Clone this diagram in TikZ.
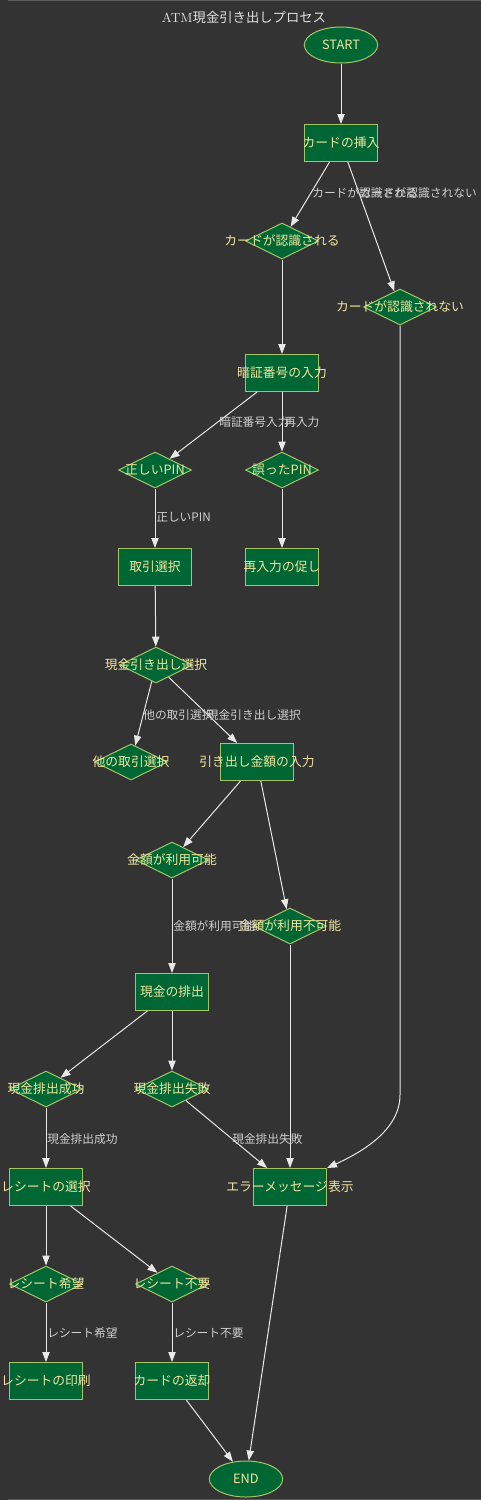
\documentclass[tikz,border=0pt]{standalone}
\usepackage{fontspec}
\newfontfamily\jp{Noto Sans CJK JP}
\usetikzlibrary{shapes.geometric,arrows.meta}
\definecolor{bg}{HTML}{333333}
\definecolor{nfill}{HTML}{006633}
\definecolor{nline}{HTML}{A4C46A}
\definecolor{ntext}{HTML}{F0E6A0}
\definecolor{etext}{HTML}{CFCFCF}
\definecolor{eline}{HTML}{E8E8E8}
\definecolor{framec}{HTML}{5C5C5C}
\begin{document}
\begin{tikzpicture}[x=0.75pt,y=-0.75pt,
 base/.style={draw=nline, fill=nfill, line width=0.75pt, inner sep=0pt},
 procbox/.style={base, rectangle, minimum width=54.75pt, minimum height=27.75pt},
 decbox/.style={base, diamond, minimum width=54.75pt, minimum height=27pt},
 termbox/.style={base, ellipse, minimum width=55pt, minimum height=27pt},
 ntxt/.style={text=ntext, font=\jp\fontsize{9.6pt}{11pt}\selectfont, inner sep=0pt},
 elab/.style={text=etext, font=\jp\fontsize{8.8pt}{10pt}\selectfont, inner sep=0pt},
 flow/.style={draw=eline, line width=0.75pt, -{Triangle[length=7.5pt,width=5.5pt]}},
]
\fill[bg] (0,0) rectangle (481,1500);
\useasboundingbox (0,0) rectangle (481,1500);
\draw[framec, line width=1pt] (8,0.6) -- (481,0.6);
\draw[framec, line width=1pt] (8,1499.4) -- (481,1499.4);

% title
\node[text=white!88!black, font=\fontsize{10pt}{12pt}\selectfont, inner sep=0pt] (title) at (244,17) {ATM{\jp 現金引き出しプロセス}};

% nodes
\node[termbox, label={[ntxt]center:START}] (start) at (341,45) {};
\node[procbox, label={[ntxt]center:カードの挿入}] (insert) at (341,143) {};
\node[decbox, label={[ntxt]center:カードが認識される}] (recog) at (282,241) {};
\node[decbox, label={[ntxt]center:カードが認識されない}] (norecog) at (400,307) {};
\node[procbox, label={[ntxt]center:暗証番号の入力}] (pin) at (282,373) {};
\node[decbox, label={[ntxt]center:正しいPIN}] (okpin) at (155,470) {};
\node[decbox, label={[ntxt]center:誤ったPIN}] (badpin) at (282,470) {};
\node[procbox, label={[ntxt]center:取引選択}] (trans) at (155,567) {};
\node[procbox, label={[ntxt]center:再入力の促し}] (retry) at (282,567) {};
\node[decbox, label={[ntxt]center:現金引き出し選択}] (cashsel) at (156,665) {};
\node[decbox, label={[ntxt]center:他の取引選択}] (other) at (131,762) {};
\node[procbox, label={[ntxt]center:引き出し金額の入力}] (amount) at (257,762) {};
\node[decbox, label={[ntxt]center:金額が利用可能}] (avail) at (172,860) {};
\node[decbox, label={[ntxt]center:金額が利用不可能}] (unavail) at (290,926) {};
\node[procbox, label={[ntxt]center:現金の排出}] (dispense) at (172,992) {};
\node[decbox, label={[ntxt]center:現金排出成功}] (dsucc) at (46,1089) {};
\node[decbox, label={[ntxt]center:現金排出失敗}] (dfail) at (172,1089) {};
\node[procbox, label={[ntxt]center:レシートの選択}] (rsel) at (46,1187) {};
\node[procbox, label={[ntxt]center:エラーメッセージ表示}] (err) at (290,1187) {};
\node[decbox, label={[ntxt]center:レシート希望}] (rwant) at (46,1284) {};
\node[decbox, label={[ntxt]center:レシート不要}] (rno) at (172,1284) {};
\node[procbox, label={[ntxt]center:レシートの印刷}] (rprint) at (46,1381) {};
\node[procbox, label={[ntxt]center:カードの返却}] (cret) at (172,1381) {};
\node[termbox, label={[ntxt]center:END}] (end) at (246,1479) {};

% edges
\draw[flow] (start) -- (insert);
\draw[flow] (insert) -- (recog);
\draw[flow] (insert) -- (norecog);
\draw[flow] (recog) -- (pin);
\coordinate (bend) at (400,1095);
\draw[flow] (norecog.south) -- (bend) .. controls (400,1130) and (362,1152) .. (err.north east);
\draw[flow] (pin) -- (okpin);
\draw[flow] (pin) -- (badpin);
\draw[flow] (okpin) -- (trans);
\draw[flow] (badpin) -- (retry);
\draw[flow] (trans) -- (cashsel);
\draw[flow] (cashsel) -- (other);
\draw[flow] (cashsel) -- (amount);
\draw[flow] (amount) -- (avail);
\draw[flow] (amount) -- (unavail);
\draw[flow] (avail) -- (dispense);
\draw[flow] (unavail) -- (err);
\draw[flow] (dispense) -- (dsucc);
\draw[flow] (dispense) -- (dfail);
\draw[flow] (dsucc) -- (rsel);
\draw[flow] (dfail) -- (err);
\draw[flow] (rsel) -- (rwant);
\draw[flow] (rsel) -- (rno);
\draw[flow] (rwant) -- (rprint);
\draw[flow] (rno) -- (cret);
\draw[flow] (cret) -- (end);
\draw[flow] (err) -- (end);

% edge labels
\node[elab, anchor=west] (l1) at (312,193) {カードが認識される};
\node[elab, anchor=east] (l2) at (477,193) {カードが認識されない};
\node[elab, anchor=west] (l3) at (219,422) {暗証番号入力};
\node[elab, anchor=west] (l4) at (284,422) {再入力};
\node[elab, anchor=west] (l5) at (156,517) {正しいPIN};
\node[elab, anchor=west] (l6) at (143,715) {他の取引選択};
\node[elab, anchor=east] (l7) at (301,715) {現金引き出し選択};
\node[elab, anchor=west] (l8) at (173,926) {金額が利用可能};
\node[elab, anchor=west] (l9) at (47,1139) {現金排出成功};
\node[elab, anchor=west] (l10) at (232,1139) {現金排出失敗};
\node[elab, anchor=west] (l11) at (47,1333) {レシート希望};
\node[elab, anchor=west] (l12) at (173,1333) {レシート不要};
\end{tikzpicture}
\end{document}
